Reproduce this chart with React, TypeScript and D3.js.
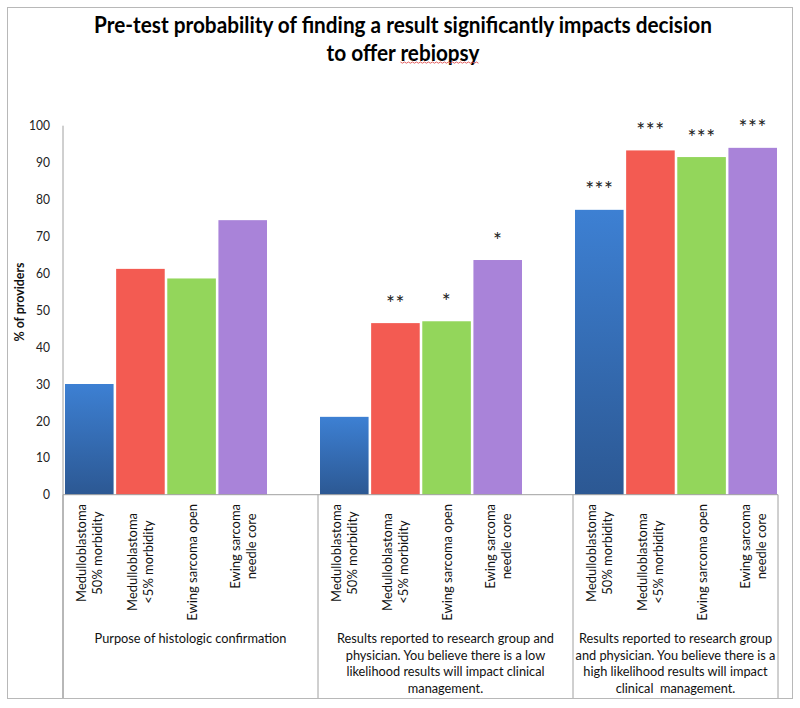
import React from "react";
import * as d3 from "d3";

// ---------- data ----------
const groups = [
  "Purpose of histologic confirmation",
  "Results reported to research group and physician. You believe there is a low likelihood results will impact clinical management.",
  "Results reported to research group and physician. You believe there is a high likelihood results will impact clinical  management.",
];
const groupLabelLines = [
  ["Purpose of histologic confirmation"],
  [
    "Results reported to research group and",
    "physician. You believe there is a low",
    "likelihood results will impact clinical",
    "management.",
  ],
  [
    "Results reported to research group",
    "and physician. You believe there is a",
    "high likelihood results will impact",
    "clinical  management.",
  ],
];
const series = [
  "Medulloblastoma 50% morbidity",
  "Medulloblastoma <5% morbidity",
  "Ewing sarcoma open",
  "Ewing sarcoma needle core",
];
const seriesLabelLines = [
  ["Medulloblastoma", "50% morbidity"],
  ["Medulloblastoma", "<5% morbidity"],
  ["Ewing sarcoma open"],
  ["Ewing sarcoma", "needle core"],
];
const valuesPurpose = [30.0, 61.2, 58.6, 74.4];
const valuesLowLikelihood = [21.1, 46.5, 47.0, 63.6];
const valuesHighLikelihood = [77.2, 93.3, 91.5, 94.0];
const sigPurpose = ["", "", "", ""];
const sigLowLikelihood = ["", "**", "*", "*"];
const sigHighLikelihood = ["***", "***", "***", "***"];
const yTicks = [0, 10, 20, 30, 40, 50, 60, 70, 80, 90, 100];
const titleLine1 = "Pre-test probability of finding a result significantly impacts decision";
const titleLine2a = "to offer ";
const titleLine2b = "rebiopsy";
const yTitle = "% of providers";

const groupValues = [valuesPurpose, valuesLowLikelihood, valuesHighLikelihood];
const groupSig = [sigPurpose, sigLowLikelihood, sigHighLikelihood];

// ---------- style / layout ----------
const W = 800;
const H = 708;
const FONT = "Lato, 'Open Sans', sans-serif";
const colors = ["#3570bd", "#f35b52", "#93d65b", "#a983d9"];
const axisColor = "#a0a0a0";
const plotLeft = 63;
const plotRight = 778;
const y0px = 494.7;
const y100px = 125.7;
const GROW = 1.1; // glyphs drawn taller, squeezed to the reference width

let _ctx: CanvasRenderingContext2D | null = null;
function measure(text: string, size: number, weight = "normal") {
  if (!_ctx) _ctx = document.createElement("canvas").getContext("2d");
  if (!_ctx) return text.length * size * 0.5;
  _ctx.font = `${weight} ${size}px ${FONT}`;
  return _ctx.measureText(text).width;
}
function fit(text: string, target: number, weight = "normal") {
  return target / measure(text, 1, weight);
}

function T(props: {
  text: string;
  size: number;
  weight?: string;
  x?: number;
  y?: number;
  anchor?: string;
  transform?: string;
  dy?: string;
  fill?: string;
}) {
  const { text, size, weight = "normal", x = 0, y = 0, anchor = "middle", transform, dy = "0.35em", fill = "#111" } = props;
  const len = measure(text, size, weight);
  return (
    <text
      x={x}
      y={y}
      transform={transform}
      textAnchor={anchor}
      dy={dy}
      fontSize={size * GROW}
      fontWeight={weight}
      fill={fill}
      textLength={len}
      lengthAdjust="spacingAndGlyphs"
      style={{ whiteSpace: "pre" }}
    >
      {text}
    </text>
  );
}

export default function App() {
  const y = d3.scaleLinear().domain([0, 100]).range([y0px, y100px]);
  const gx = d3.scaleBand<string>().domain(groups).range([plotLeft, plotLeft + 765]).padding(0);
  const sx = d3.scaleBand<string>().domain(series).range([2, 204]).paddingInner(0.05).paddingOuter(0);

  const titleSize = fit(titleLine1, 618, "bold");
  const tickSize = fit("100", 21);
  const catSize = fit("Medulloblastoma", 98);
  const grpSize = fit(groupLabelLines[0][0], 192);
  const yTitleSize = fit(yTitle, 79, "bold");
  const sigSize = 21;

  const labelTop = 504;
  const labelShift = [0, 9, 0, 0];
  const catLineGap = 16;
  const grpFirstY = 638;
  const grpLineGap = 16.7;
  const sepBottom = 698;
  const titleCx = 403;
  const title1Y = 25;
  const title2Y = 53;

  const separators = [...groups.map((g) => gx(g) as number), plotRight];

  // title line 2 pieces and spell-check squiggle under "rebiopsy"
  const wA = measure(titleLine2a, titleSize, "bold");
  const wB = measure(titleLine2b, titleSize, "bold");
  const line2Start = titleCx - (wA + wB) / 2;
  const sqStart = line2Start + wA;
  const sqY = title2Y + 9;
  const sqPts: [number, number][] = d3.range(0, Math.floor(wB / 2) + 1).map((i) => [sqStart + i * 2, sqY + (i % 2 === 0 ? 0 : 1.2)]);
  const sqPath = d3.line()(sqPts) || "";

  return (
    <svg width={W} height={H} style={{ position: "absolute", left: 0, top: 0, background: "#fff" }} fontFamily={FONT}>
      <defs>
        <linearGradient id="blueGrad" x1="0" y1="0" x2="0" y2="1">
          <stop offset="0%" stopColor="#3d80d3" />
          <stop offset="100%" stopColor="#2c5893" />
        </linearGradient>
      </defs>
      <rect x={7.5} y={7.5} width={785} height={691} fill="#fff" stroke="#b8b8b8" />

      {/* title */}
      <T text={titleLine1} size={titleSize} weight="bold" x={titleCx} y={title1Y} fill="#000" />
      <T text={titleLine2a} size={titleSize} weight="bold" x={line2Start} y={title2Y} anchor="start" fill="#000" />
      <T text={titleLine2b} size={titleSize} weight="bold" x={sqStart} y={title2Y} anchor="start" fill="#000" />
      <path d={sqPath} fill="none" stroke="#e05050" strokeWidth={0.9} />

      {/* y axis */}
      <line x1={plotLeft} x2={plotLeft} y1={y(100)} y2={sepBottom} stroke={axisColor} />
      {yTicks.map((t) => (
        <T key={t} text={String(t)} x={50} y={y(t)} anchor="end" size={tickSize} fill="#222" />
      ))}
      <T text={yTitle} size={yTitleSize} weight="bold" transform={`translate(${19},${302}) rotate(-90)`} fill="#111" />

      {/* bars */}
      {groups.map((g, gi) =>
        series.map((s, si) => {
          const v = groupValues[gi][si];
          const x = (gx(g) as number) + (sx(s) as number);
          return (
            <rect
              key={g + s}
              x={x}
              y={y(v)}
              width={sx.bandwidth()}
              height={y(0) - y(v)}
              fill={si === 0 ? "url(#blueGrad)" : colors[si]}
            />
          );
        })
      )}

      {/* significance */}
      {groups.map((g, gi) =>
        series.map((s, si) => {
          const lab = groupSig[gi][si];
          if (!lab) return null;
          const v = groupValues[gi][si];
          const cx = (gx(g) as number) + (sx(s) as number) + sx.bandwidth() / 2;
          return (
            <text
              key={"sig" + g + s}
              x={cx}
              y={y(v) - 24 + sigSize * 0.55}
              textAnchor="middle"
              fontSize={sigSize}
              letterSpacing={0.5}
              fill="#222"
            >
              {lab}
            </text>
          );
        })
      )}

      {/* x axis */}
      <line x1={plotLeft} x2={plotRight} y1={y(0)} y2={y(0)} stroke={axisColor} />
      {separators.map((sxp, i) => (
        <line key={"sep" + i} x1={sxp} x2={sxp} y1={y(0)} y2={sepBottom} stroke={axisColor} />
      ))}

      {/* category labels */}
      {groups.map((g, gi) =>
        series.map((s, si) => {
          const lines = seriesLabelLines[si];
          const maxLen = Math.max(...lines.map((l) => measure(l, catSize)));
          const cx = (gx(g) as number) + (sx(s) as number) + sx.bandwidth() / 2;
          const cy = labelTop + labelShift[si] + maxLen / 2;
          return lines.map((l, li) => (
            <T
              key={"cat" + g + s + li}
              text={l}
              size={catSize}
              transform={`translate(${cx + (li - (lines.length - 1) / 2) * catLineGap},${cy}) rotate(-90)`}
            />
          ));
        })
      )}

      {/* group labels */}
      {groups.map((g, gi) => {
        const left = gx(g) as number;
        const right = gi === groups.length - 1 ? plotRight : left + gx.bandwidth();
        const cx = (left + right) / 2;
        return groupLabelLines[gi].map((l, li) => (
          <T key={"grp" + gi + li} text={l} size={grpSize} x={cx} y={grpFirstY + li * grpLineGap} />
        ));
      })}
    </svg>
  );
}
